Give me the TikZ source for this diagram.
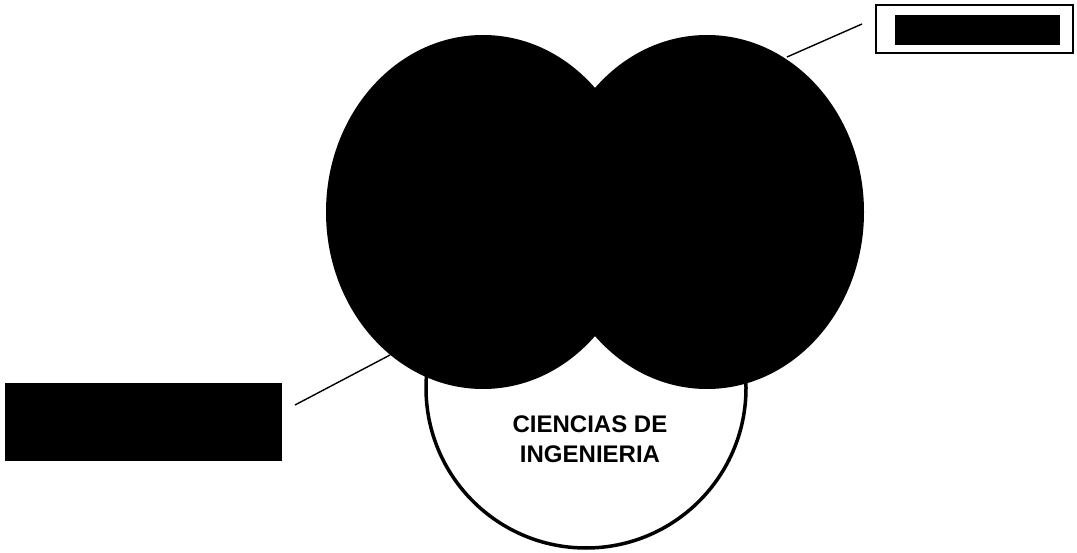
\documentclass[tikz,border=0pt]{standalone}
\usepackage{fontspec}
\setmainfont{Liberation Sans}
\usetikzlibrary{shapes.geometric}
\begin{document}
\begin{tikzpicture}[x=1pt,y=-1pt,
  blob/.style={ellipse, fill=black, inner sep=0pt, minimum width=314pt, minimum height=354pt},
  link/.style={line width=1.4pt, draw=black},
  label/.style={font=\bfseries\fontsize{24}{30}\selectfont, align=center, inner sep=0pt}
  ]
\useasboundingbox[fill=white] (0,0) rectangle (1077,553);
% bottom circle
\node[circle, draw=black, line width=3.5pt, fill=white, minimum size=320pt, inner sep=0pt] (base) at (586,388) {};
% two overlapping ellipses
\node[blob] (R) at (707,212) {};
\node[blob] (L) at (483,212) {};
% label
\node[label] (t) at (590,439) {CIENCIAS DE\\INGENIERIA};
% top-right box
\node[draw=black, line width=1.5pt, fill=white, minimum width=197pt, minimum height=48pt, inner sep=0pt] (rb) at (974.5,29) {};
\node[fill=black, minimum width=165pt, minimum height=30pt, inner sep=0pt] (rbar) at (977.5,30) {};
% bottom-left box
\node[fill=black, minimum width=277pt, minimum height=78pt, inner sep=0pt] (lb) at (143.5,422) {};
% connectors
\coordinate (r1) at (862,24);
\coordinate (r2) at (787,57);
\coordinate (l1) at (295,405);
\coordinate (l2) at (390,355);
\draw[link] (r1) -- (r2);
\draw[link] (l1) -- (l2);
\end{tikzpicture}
\end{document}
